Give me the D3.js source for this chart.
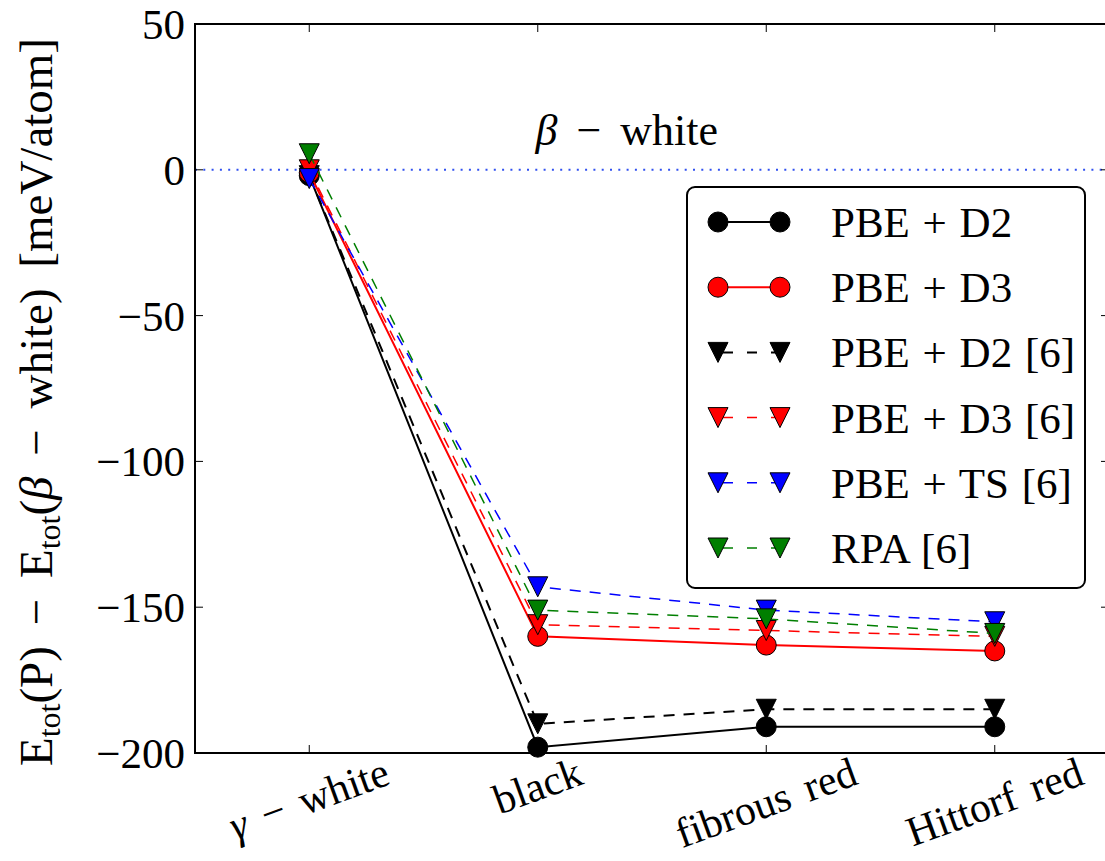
<!DOCTYPE html>
<meta charset="utf-8">
<style>
body { margin: 0; background: #fff; }
.line { fill: none; }
</style>
<body>
<script src="https://cdn.jsdelivr.net/npm/d3@7/dist/d3.min.js"></script>
<script>

// phases on the x axis
var phases = ["\u03B3 \u2212 white", "black", "fibrous red", "Hittorf red"];

// energies relative to beta-white, meV/atom
var pbeD2   = [-2, -198, -191, -191];
var pbeD3   = [-1, -160, -163, -165];
var pbeD2r6 = [-2, -190, -185, -185];
var pbeD3r6 = [0, -156, -158, -160];
var pbeTSr6 = [-3, -143, -151, -155];
var rpaR6   = [5.5, -151, -154, -159];

var seriesNames = ["PBE + D2", "PBE + D3", "PBE + D2 [6]", "PBE + D3 [6]", "PBE + TS [6]", "RPA [6]"];
var yTicks = [50, 0, -50, -100, -150, -200];

// style of each series (same order as the names)
var styles = [
  {values: pbeD2,   color: "#000000", marker: "circle",   dash: null,   lw: 2},
  {values: pbeD3,   color: "#ff0000", marker: "circle",   dash: null,   lw: 2},
  {values: pbeD2r6, color: "#000000", marker: "triangle", dash: "11,9", lw: 2},
  {values: pbeD3r6, color: "#ff0000", marker: "triangle", dash: "11,9", lw: 1.5},
  {values: pbeTSr6, color: "#0000ff", marker: "triangle", dash: "11,9", lw: 1.5},
  {values: rpaR6,   color: "#007f00", marker: "triangle", dash: "11,9", lw: 1.5}
];

var margin = {top: 24, left: 195},
    width = 914,
    height = 729;

var svg = d3.select("body").append("svg")
    .attr("width", 1105)
    .attr("height", 861)
    .attr("font-family", "Liberation Serif");

var x = d3.scaleLinear().domain([-0.5, 3.5]).range([margin.left, margin.left + width]);
var y = d3.scaleLinear().domain([-200, 50]).range([margin.top + height, margin.top]);

// beta-white reference line
svg.append("line")
    .attr("x1", x(-0.5)).attr("x2", x(3.5))
    .attr("y1", y(0)).attr("y2", y(0))
    .attr("stroke", "#3050f0")
    .attr("stroke-width", 2)
    .attr("stroke-dasharray", "2,6.3");

var ann = svg.append("text")
    .attr("x", x(0.99))
    .attr("y", y(8.5))
    .attr("font-size", 44)
    .attr("word-spacing", 8);
ann.append("tspan").attr("font-style", "italic").text("\u03B2");
ann.append("tspan").text(" \u2212 white");

// marker drawing helper
function drawMarker(g, kind, cx, cy, color) {
  if (kind == "circle") {
    g.append("circle")
      .attr("cx", cx).attr("cy", cy).attr("r", 10)
      .attr("fill", color).attr("stroke", "#000").attr("stroke-width", 1);
  } else {
    var s = 10;
    g.append("path")
      .attr("d", "M" + (cx - s) + "," + (cy - s) + "L" + (cx + s) + "," + (cy - s) + "L" + cx + "," + (cy + s) + "Z")
      .attr("fill", color).attr("stroke", "#000").attr("stroke-width", 1);
  }
}

var line = d3.line()
    .x(function(d, i) { return x(i); })
    .y(function(d) { return y(d); });

var plot = svg.append("g");
styles.forEach(function(s) {
  var g = plot.append("g");
  g.append("path")
    .datum(s.values)
    .attr("class", "line")
    .attr("d", line)
    .attr("stroke", s.color)
    .attr("stroke-width", s.lw)
    .attr("stroke-dasharray", s.dash);
  s.values.forEach(function(v, i) {
    drawMarker(g, s.marker, x(i), y(v), s.color);
  });
});

// frame
svg.append("rect")
    .attr("x", x(-0.5)).attr("y", y(50))
    .attr("width", width).attr("height", height)
    .attr("fill", "none").attr("stroke", "#000").attr("stroke-width", 2);

// ticks (inward, classic matplotlib)
var tl = 8;
yTicks.forEach(function(t) {
  svg.append("line").attr("x1", x(-0.5)).attr("x2", x(-0.5) + tl)
    .attr("y1", y(t)).attr("y2", y(t)).attr("stroke", "#000").attr("stroke-width", 1);
  svg.append("line").attr("x1", x(3.5)).attr("x2", x(3.5) - tl)
    .attr("y1", y(t)).attr("y2", y(t)).attr("stroke", "#000").attr("stroke-width", 1);
  svg.append("text")
    .attr("x", x(-0.5) - 10)
    .attr("y", y(t))
    .attr("dy", "0.35em")
    .attr("text-anchor", "end")
    .attr("font-size", 43)
    .text(d3.format("")(t));
});

phases.forEach(function(p, i) {
  svg.append("line").attr("x1", x(i)).attr("x2", x(i))
    .attr("y1", y(-200)).attr("y2", y(-200) - tl).attr("stroke", "#000").attr("stroke-width", 1);
  svg.append("line").attr("x1", x(i)).attr("x2", x(i))
    .attr("y1", y(50)).attr("y2", y(50) + tl).attr("stroke", "#000").attr("stroke-width", 1);

  var t = svg.append("text")
    .attr("text-anchor", "middle")
    .attr("font-size", 42)
    .attr("word-spacing", 6);
  if (i == 0) {
    t.append("tspan").attr("font-style", "italic").text("\u03B3");
    t.append("tspan").text(" \u2212 white");
  } else {
    t.text(p);
  }
  // rotated by 20 deg, bbox centred under the tick like matplotlib
  var L = t.node().getComputedTextLength();
  var a = 20 * Math.PI / 180;
  var H = L * Math.sin(a) + 32 * Math.cos(a);
  t.attr("dy", "0.32em")
    .attr("transform", "translate(" + x(i) + "," + (y(-200) + 3 + H / 2) + ") rotate(-20)");
});

// y axis label
var yl = svg.append("text")
    .attr("text-anchor", "middle")
    .attr("font-size", 47)
    .attr("word-spacing", 9)
    .attr("transform", "translate(52," + 402 + ") rotate(-90)");
yl.append("tspan").text("E");
yl.append("tspan").attr("font-size", 32).attr("dy", 8).text("tot");
yl.append("tspan").attr("dy", -8).text("(P) \u2212 E");
yl.append("tspan").attr("font-size", 32).attr("dy", 8).text("tot");
yl.append("tspan").attr("dy", -8).text("(");
yl.append("tspan").attr("font-style", "italic").text("\u03B2");
yl.append("tspan").text(" \u2212 white) [meV/atom]");

// legend
var lg = svg.append("g").attr("transform", "translate(687,187)");
lg.append("rect")
    .attr("width", 398).attr("height", 401)
    .attr("rx", 8).attr("ry", 8)
    .attr("fill", "#fff").attr("stroke", "#000").attr("stroke-width", 2);

seriesNames.forEach(function(name, i) {
  var s = styles[i];
  var cy = 35 + i * 65.2;
  var row = lg.append("g");
  row.append("line")
    .attr("x1", 31).attr("x2", 93)
    .attr("y1", cy).attr("y2", cy)
    .attr("stroke", s.color)
    .attr("stroke-width", s.lw)
    .attr("stroke-dasharray", s.dash ? "10,14" : null)
    .attr("stroke-dashoffset", s.dash ? -5 : null);
  drawMarker(row, s.marker, 31, cy, s.color);
  drawMarker(row, s.marker, 93, cy, s.color);
  row.append("text")
    .attr("x", 144)
    .attr("y", cy)
    .attr("dy", "0.35em")
    .attr("font-size", 43)
    .attr("word-spacing", 2)
    .text(name);
});

</script>
</body>
